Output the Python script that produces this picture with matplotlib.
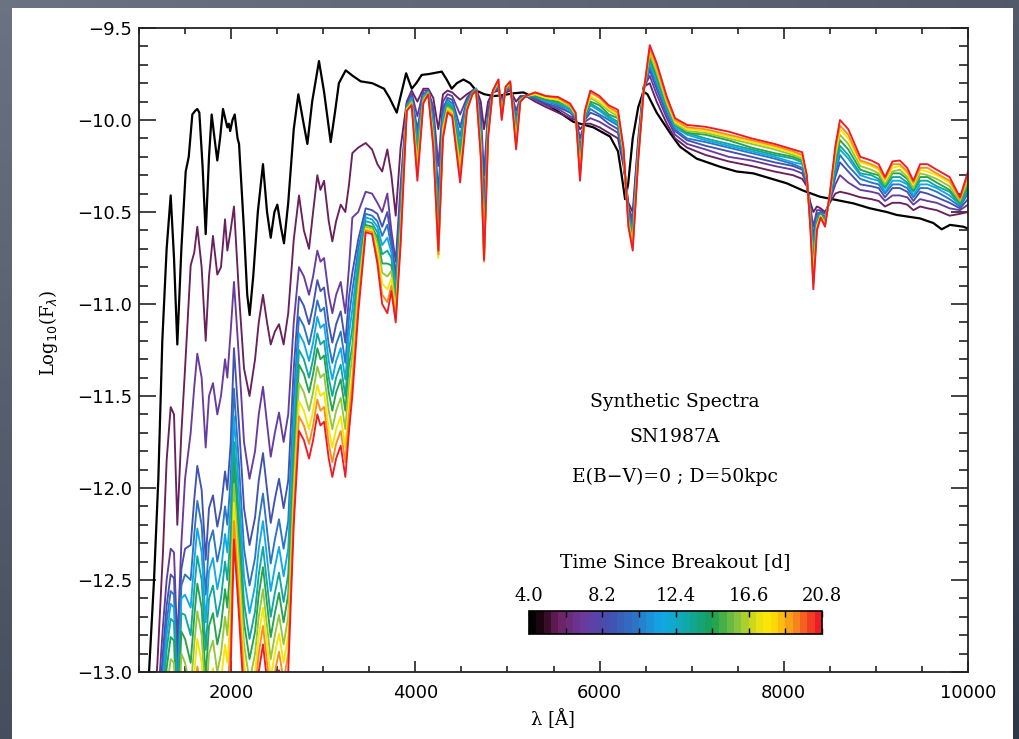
import numpy as np
import matplotlib
matplotlib.use('Agg')
import matplotlib.pyplot as plt
from matplotlib.colors import LinearSegmentedColormap, Normalize
from matplotlib.patches import Rectangle
from matplotlib.ticker import MultipleLocator, FuncFormatter
import matplotlib.cm as cm

# days since breakout, one per spectrum (black = first)
times = [4.0, 5.5, 7.1, 8.6, 10.1, 11.6, 13.2, 14.7, 16.2, 17.7, 19.3, 20.8]

# first spectrum (black), own wavelength grid
wave_black = [1090, 1109, 1163, 1210, 1253, 1300, 1344, 1380, 1416, 1460, 1507, 1540, 1579, 1610, 1633, 1655,
              1690, 1724, 1760, 1789, 1820, 1850, 1880, 1912, 1940, 1959, 1975, 1990, 2015, 2039, 2070, 2086,
              2140, 2175, 2201, 2240, 2290, 2346, 2390, 2430, 2470, 2502, 2540, 2574, 2620, 2680, 2730, 2780,
              2828, 2880, 2954, 3010, 3081, 3130, 3170, 3244, 3320, 3407, 3533, 3660, 3720, 3798, 3850, 3900,
              3961, 4010, 4069, 4150, 4287, 4340, 4395, 4450, 4522, 4594, 4660, 4750, 4850, 4950, 5065, 5173,
              5300, 5499, 5716, 5933, 6114, 6200, 6240, 6277, 6310, 6360, 6420, 6476, 6520, 6620, 6765, 6873,
              7054, 7308, 7489, 7670, 7851, 8032, 8212, 8393, 8574, 8755, 8936, 9117, 9226, 9479, 9624, 9714,
              9805, 9950, 10000]
logf_black = [-13.3, -13.0, -12.5, -11.95, -11.2, -10.7, -10.41, -10.75, -11.22, -10.7, -10.28, -10.2, -9.97, -9.95, -9.94, -9.96,
              -10.25, -10.62, -10.2, -9.97, -10.1, -10.22, -10.1, -9.94, -10.0, -10.04, -10.02, -10.06, -10.0, -9.97, -10.1, -10.13,
              -10.6, -10.95, -11.06, -10.85, -10.5, -10.24, -10.5, -10.64, -10.5, -10.46, -10.58, -10.67, -10.45, -10.05, -9.86, -10.0,
              -10.13, -9.9, -9.68, -9.85, -10.12, -9.95, -9.8, -9.73, -9.76, -9.79, -9.8, -9.83, -9.88, -9.96, -9.85, -9.746,
              -9.83, -9.8, -9.755, -9.75, -9.737, -9.78, -9.83, -9.8, -9.78, -9.8, -9.84, -9.86, -9.87, -9.865, -9.855, -9.85,
              -9.88, -9.937, -10.01, -10.04, -10.09, -10.17, -10.3, -10.43, -10.35, -10.1, -9.93, -9.846, -9.86, -9.96, -10.07, -10.145,
              -10.21, -10.254, -10.28, -10.29, -10.317, -10.344, -10.384, -10.417, -10.435, -10.453, -10.48, -10.5, -10.516, -10.535, -10.56, -10.594,
              -10.57, -10.58, -10.59]

# shared wavelength grid of the later spectra (UV part, then optical part)
wave_uv = [1150, 1200, 1260, 1300, 1344, 1380, 1416, 1460, 1500, 1561, 1600, 1633, 1680, 1724, 1760, 1803,
           1850, 1890, 1934, 1959, 1995, 2031, 2086, 2140, 2200, 2260, 2300, 2346, 2390, 2430, 2475, 2520,
           2570, 2620, 2680, 2737, 2790, 2846, 2890, 2936, 2970, 3009, 3060, 3099, 3140, 3190, 3240, 3280,
           3316, 3380, 3461, 3530, 3588, 3640, 3696, 3740]
wave_opt = [3787, 3840, 3907, 3960, 4022, 4087, 4140, 4195, 4250, 4300, 4350, 4400, 4486, 4560, 4620, 4660,
            4710, 4746, 4790, 4840, 4902, 4938, 4980, 5030, 5094, 5140, 5200, 5300, 5420, 5550, 5680, 5740,
            5788, 5840, 5900, 6000, 6100, 6200, 6260, 6313, 6360, 6420, 6476, 6545, 6620, 6730, 6820, 6950,
            7150, 7400, 7650, 7900, 8100, 8200, 8250, 8290, 8321, 8360, 8400, 8448, 8500, 8560, 8610, 8700,
            8830, 8950, 9030, 9099, 9180, 9260, 9340, 9407, 9480, 9560, 9660, 9800, 9913, 10000]

logf_t055 = [-13.3, -12.95, -12.35, -11.85, -11.56, -11.6, -12.2, -11.7, -11.35, -10.79, -10.72, -10.58, -10.8, -11.2, -10.85, -10.63,
             -10.84, -10.8, -10.54, -10.71, -10.6, -10.47, -10.95, -11.35, -11.5, -11.3, -11.1, -10.95, -11.1, -11.22, -11.15, -11.11,
             -11.22, -11.05, -10.65, -10.41, -10.6, -10.7, -10.5, -10.3, -10.38, -10.33, -10.55, -10.66, -10.55, -10.46, -10.5, -10.35,
             -10.18, -10.15, -10.125, -10.16, -10.24, -10.28, -10.16, -10.3,
             -10.52, -10.15, -9.9, -9.84, -9.9, -9.83, -9.83, -9.88, -10.05, -9.86, -9.84, -9.85, -9.89, -9.86, -9.84, -9.83,
             -9.9, -10.05, -9.9, -9.85, -9.84, -9.88, -9.85, -9.84, -9.9, -9.87, -9.87, -9.9, -9.93, -9.96, -9.99, -10.0,
             -10.05, -10.02, -10.02, -10.04, -10.07, -10.1, -10.25, -10.45, -10.5, -10.1, -9.82, -9.8, -9.9, -10.02, -10.1, -10.15,
             -10.19, -10.225, -10.25, -10.28, -10.3, -10.32, -10.36, -10.45, -10.5, -10.47, -10.48, -10.5, -10.45, -10.4, -10.39, -10.4,
             -10.42, -10.43, -10.44, -10.47, -10.45, -10.45, -10.46, -10.49, -10.47, -10.48, -10.49, -10.52, -10.51, -10.5]
logf_t071 = [-13.6, -13.2, -12.75, -12.5, -12.33, -12.35, -12.85, -12.3, -11.95, -11.7, -11.45, -11.27, -11.4, -11.78, -11.5, -11.43,
             -11.6, -11.5, -11.3, -11.4, -11.15, -10.88, -11.3, -11.75, -11.95, -11.8, -11.6, -11.45, -11.65, -11.83, -11.7, -11.59,
             -11.75, -11.6, -11.1, -10.8, -10.85, -10.95, -10.85, -10.71, -10.77, -10.75, -10.95, -11.05, -10.95, -10.88, -11.05, -10.8,
             -10.53, -10.5, -10.39, -10.4, -10.45, -10.5, -10.4, -10.6,
             -10.77, -10.35, -9.91, -9.85, -9.98, -9.84, -9.84, -9.93, -10.25, -9.9, -9.86, -9.87, -9.97, -9.88, -9.84, -9.83,
             -9.95, -10.3, -9.94, -9.85, -9.83, -9.9, -9.84, -9.83, -9.95, -9.88, -9.87, -9.89, -9.92, -9.94, -9.98, -9.99,
             -10.1, -10.01, -9.99, -10.01, -10.04, -10.07, -10.23, -10.47, -10.54, -10.12, -9.83, -9.76, -9.86, -9.99, -10.08, -10.13,
             -10.16, -10.2, -10.22, -10.25, -10.27, -10.29, -10.35, -10.48, -10.58, -10.49, -10.49, -10.51, -10.44, -10.35, -10.3, -10.34,
             -10.38, -10.39, -10.4, -10.44, -10.41, -10.41, -10.42, -10.46, -10.43, -10.44, -10.45, -10.48, -10.49, -10.46]
logf_t086 = [-13.74, -13.34, -12.89, -12.64, -12.47, -12.49, -12.99, -12.44, -12.33, -12.31, -12.06, -11.88, -12.01, -12.39, -12.11, -12.04,
             -12.21, -12.11, -11.91, -12.01, -11.76, -11.24, -11.66, -12.11, -12.31, -12.16, -11.96, -11.81, -12.01, -12.19, -12.06, -11.95,
             -12.11, -11.96, -11.35, -10.96, -11.01, -11.11, -11.01, -10.87, -10.93, -10.91, -11.11, -11.21, -11.11, -11.04, -11.21, -10.96,
             -10.83, -10.65, -10.48, -10.49, -10.51, -10.58, -10.5, -10.65,
             -10.85, -10.42, -9.92, -9.87, -10.05, -9.86, -9.84, -9.97, -10.4, -9.94, -9.88, -9.89, -10.04, -9.89, -9.85, -9.83,
             -10.0, -10.45, -9.97, -9.85, -9.82, -9.92, -9.84, -9.82, -9.99, -9.88, -9.87, -9.88, -9.91, -9.93, -9.96, -9.99,
             -10.15, -10.0, -9.96, -9.98, -10.02, -10.05, -10.22, -10.49, -10.57, -10.14, -9.83, -9.73, -9.83, -9.97, -10.06, -10.11,
             -10.14, -10.17, -10.2, -10.23, -10.25, -10.27, -10.34, -10.5, -10.63, -10.51, -10.5, -10.53, -10.43, -10.31, -10.23, -10.28,
             -10.35, -10.36, -10.37, -10.42, -10.37, -10.37, -10.39, -10.44, -10.39, -10.4, -10.42, -10.45, -10.48, -10.43]
logf_t101 = [-13.83, -13.43, -12.98, -12.73, -12.56, -12.58, -13.08, -12.53, -12.47, -12.5, -12.25, -12.07, -12.2, -12.58, -12.3, -12.23,
             -12.4, -12.3, -12.1, -12.2, -11.95, -11.46, -11.88, -12.33, -12.53, -12.38, -12.18, -12.03, -12.23, -12.41, -12.28, -12.17,
             -12.33, -12.18, -11.52, -11.07, -11.12, -11.22, -11.12, -10.98, -11.04, -11.02, -11.22, -11.32, -11.22, -11.15, -11.32, -11.07,
             -10.93, -10.7, -10.51, -10.52, -10.55, -10.63, -10.57, -10.69,
             -10.9, -10.46, -9.92, -9.88, -10.09, -9.87, -9.84, -10.0, -10.5, -9.97, -9.89, -9.91, -10.09, -9.9, -9.85, -9.83,
             -10.03, -10.55, -9.99, -9.85, -9.81, -9.93, -9.84, -9.82, -10.01, -9.88, -9.87, -9.88, -9.9, -9.92, -9.95, -9.98,
             -10.17, -9.99, -9.94, -9.97, -10.0, -10.03, -10.21, -10.51, -10.59, -10.15, -9.84, -9.71, -9.81, -9.96, -10.05, -10.1,
             -10.12, -10.15, -10.18, -10.21, -10.24, -10.26, -10.33, -10.52, -10.68, -10.53, -10.5, -10.54, -10.43, -10.29, -10.19, -10.25,
             -10.32, -10.34, -10.35, -10.4, -10.35, -10.35, -10.37, -10.42, -10.37, -10.37, -10.39, -10.43, -10.47, -10.4]
logf_t116 = [-13.9, -13.5, -13.05, -12.8, -12.63, -12.65, -13.15, -12.6, -12.58, -12.65, -12.4, -12.22, -12.35, -12.73, -12.45, -12.38,
             -12.55, -12.45, -12.25, -12.35, -12.1, -11.61, -12.03, -12.48, -12.68, -12.53, -12.33, -12.18, -12.38, -12.56, -12.43, -12.32,
             -12.48, -12.33, -11.65, -11.16, -11.21, -11.31, -11.21, -11.07, -11.13, -11.11, -11.31, -11.41, -11.31, -11.24, -11.41, -11.16,
             -11.03, -10.75, -10.53, -10.54, -10.58, -10.68, -10.64, -10.72,
             -10.94, -10.5, -9.93, -9.88, -10.13, -9.87, -9.85, -10.02, -10.56, -9.99, -9.9, -9.92, -10.13, -9.91, -9.85, -9.83,
             -10.06, -10.62, -10.01, -9.85, -9.81, -9.94, -9.83, -9.81, -10.04, -9.89, -9.87, -9.87, -9.9, -9.91, -9.95, -9.98,
             -10.2, -9.98, -9.92, -9.95, -9.99, -10.02, -10.2, -10.52, -10.61, -10.16, -9.84, -9.69, -9.79, -9.94, -10.04, -10.08,
             -10.11, -10.14, -10.17, -10.2, -10.23, -10.24, -10.33, -10.53, -10.72, -10.54, -10.51, -10.54, -10.42, -10.26, -10.16, -10.21,
             -10.3, -10.32, -10.33, -10.39, -10.33, -10.33, -10.35, -10.41, -10.35, -10.35, -10.37, -10.41, -10.46, -10.38]
logf_t132 = [-13.98, -13.58, -13.13, -12.88, -12.71, -12.73, -13.23, -12.68, -12.69, -12.8, -12.55, -12.37, -12.5, -12.88, -12.6, -12.53,
             -12.7, -12.6, -12.4, -12.5, -12.25, -11.75, -12.17, -12.62, -12.82, -12.67, -12.47, -12.32, -12.52, -12.7, -12.57, -12.46,
             -12.62, -12.47, -11.78, -11.25, -11.3, -11.4, -11.3, -11.16, -11.22, -11.2, -11.4, -11.5, -11.4, -11.33, -11.5, -11.25,
             -11.13, -10.8, -10.55, -10.56, -10.61, -10.73, -10.71, -10.75,
             -10.97, -10.53, -9.93, -9.89, -10.16, -9.88, -9.85, -10.04, -10.6, -10.01, -9.91, -9.93, -10.16, -9.91, -9.85, -9.84,
             -10.08, -10.67, -10.02, -9.85, -9.8, -9.95, -9.83, -9.81, -10.06, -9.89, -9.87, -9.87, -9.89, -9.91, -9.94, -9.98,
             -10.22, -9.98, -9.91, -9.94, -9.98, -10.01, -10.19, -10.53, -10.63, -10.17, -9.84, -9.67, -9.77, -9.93, -10.03, -10.07,
             -10.1, -10.13, -10.16, -10.19, -10.21, -10.23, -10.32, -10.54, -10.75, -10.55, -10.51, -10.55, -10.42, -10.24, -10.14, -10.19,
             -10.29, -10.3, -10.32, -10.37, -10.31, -10.31, -10.34, -10.39, -10.33, -10.33, -10.36, -10.39, -10.46, -10.37]
logf_t147 = [-14.08, -13.68, -13.23, -12.98, -12.81, -12.83, -13.33, -12.78, -12.82, -12.95, -12.7, -12.52, -12.65, -13.03, -12.75, -12.68,
             -12.85, -12.75, -12.55, -12.65, -12.4, -11.86, -12.28, -12.73, -12.93, -12.78, -12.58, -12.43, -12.63, -12.81, -12.68, -12.57,
             -12.73, -12.58, -11.88, -11.33, -11.38, -11.48, -11.38, -11.24, -11.3, -11.28, -11.48, -11.58, -11.48, -11.41, -11.58, -11.33,
             -11.23, -10.85, -10.57, -10.58, -10.64, -10.78, -10.78, -10.79,
             -11.0, -10.56, -9.93, -9.9, -10.2, -9.89, -9.85, -10.07, -10.68, -10.03, -9.92, -9.94, -10.2, -9.92, -9.85, -9.84,
             -10.11, -10.71, -10.04, -9.85, -9.8, -9.96, -9.83, -9.81, -10.08, -9.89, -9.87, -9.87, -9.89, -9.9, -9.93, -9.97,
             -10.24, -9.97, -9.9, -9.92, -9.97, -9.99, -10.18, -10.54, -10.64, -10.18, -9.85, -9.66, -9.76, -9.92, -10.02, -10.07,
             -10.08, -10.11, -10.15, -10.18, -10.2, -10.22, -10.32, -10.55, -10.79, -10.56, -10.51, -10.56, -10.42, -10.22, -10.11, -10.16,
             -10.27, -10.29, -10.3, -10.36, -10.29, -10.29, -10.32, -10.38, -10.31, -10.31, -10.34, -10.38, -10.45, -10.35]
logf_t162 = [-14.2, -13.8, -13.35, -13.1, -12.93, -12.95, -13.45, -12.9, -12.95, -13.1, -12.85, -12.67, -12.8, -13.18, -12.9, -12.83,
             -13.0, -12.9, -12.7, -12.8, -12.55, -11.98, -12.4, -12.85, -13.05, -12.9, -12.7, -12.55, -12.75, -12.93, -12.8, -12.69,
             -12.85, -12.7, -11.98, -11.43, -11.48, -11.58, -11.48, -11.34, -11.4, -11.38, -11.58, -11.68, -11.58, -11.51, -11.68, -11.43,
             -11.28, -10.9, -10.58, -10.59, -10.67, -10.83, -10.85, -10.82,
             -11.03, -10.59, -9.94, -9.9, -10.23, -9.89, -9.85, -10.09, -10.73, -10.04, -9.93, -9.95, -10.24, -9.93, -9.86, -9.84,
             -10.13, -10.74, -10.05, -9.85, -9.79, -9.97, -9.83, -9.8, -10.1, -9.89, -9.87, -9.86, -9.88, -9.89, -9.93, -9.97,
             -10.27, -9.97, -9.88, -9.91, -9.95, -9.98, -10.17, -10.55, -10.66, -10.19, -9.85, -9.64, -9.74, -9.91, -10.02, -10.06,
             -10.07, -10.1, -10.13, -10.16, -10.19, -10.21, -10.31, -10.57, -10.82, -10.57, -10.52, -10.56, -10.41, -10.2, -10.08, -10.13,
             -10.25, -10.27, -10.29, -10.35, -10.28, -10.27, -10.31, -10.37, -10.29, -10.3, -10.32, -10.36, -10.44, -10.33]
logf_t177 = [-14.3, -13.9, -13.45, -13.2, -13.03, -13.05, -13.55, -13.0, -13.08, -13.25, -13.0, -12.82, -12.95, -13.33, -13.05, -12.98,
             -13.15, -13.05, -12.85, -12.95, -12.7, -12.08, -12.5, -12.95, -13.15, -13.0, -12.8, -12.65, -12.85, -13.03, -12.9, -12.79,
             -12.95, -12.8, -12.07, -11.53, -11.58, -11.68, -11.58, -11.44, -11.5, -11.48, -11.68, -11.78, -11.68, -11.61, -11.78, -11.53,
             -11.38, -10.95, -10.59, -10.6, -10.71, -10.89, -10.92, -10.86,
             -11.06, -10.62, -9.94, -9.91, -10.27, -9.9, -9.86, -10.11, -10.75, -10.06, -9.94, -9.96, -10.27, -9.94, -9.86, -9.84,
             -10.16, -10.76, -10.07, -9.85, -9.79, -9.98, -9.82, -9.8, -10.12, -9.9, -9.87, -9.86, -9.88, -9.89, -9.92, -9.97,
             -10.29, -9.96, -9.87, -9.9, -9.94, -9.97, -10.17, -10.56, -10.68, -10.2, -9.85, -9.62, -9.72, -9.9, -10.01, -10.05,
             -10.06, -10.09, -10.12, -10.15, -10.18, -10.2, -10.31, -10.58, -10.85, -10.58, -10.52, -10.57, -10.41, -10.18, -10.05, -10.1,
             -10.23, -10.25, -10.27, -10.33, -10.26, -10.25, -10.29, -10.35, -10.27, -10.28, -10.3, -10.34, -10.43, -10.31]
logf_t193 = [-14.4, -14.0, -13.55, -13.3, -13.13, -13.15, -13.65, -13.1, -13.2, -13.4, -13.15, -12.97, -13.1, -13.48, -13.2, -13.13,
             -13.3, -13.2, -13.0, -13.1, -12.85, -12.18, -12.6, -13.05, -13.25, -13.1, -12.9, -12.75, -12.95, -13.13, -13.0, -12.89,
             -13.05, -12.9, -12.14, -11.61, -11.66, -11.76, -11.66, -11.52, -11.58, -11.56, -11.76, -11.86, -11.76, -11.69, -11.86, -11.61,
             -11.43, -11.0, -10.6, -10.61, -10.75, -10.95, -10.99, -10.9,
             -11.08, -10.65, -9.95, -9.91, -10.3, -9.9, -9.86, -10.13, -10.73, -10.08, -9.95, -9.97, -10.3, -9.94, -9.86, -9.84,
             -10.18, -10.77, -10.08, -9.85, -9.78, -9.99, -9.82, -9.79, -10.14, -9.9, -9.87, -9.85, -9.87, -9.88, -9.92, -9.96,
             -10.31, -9.96, -9.85, -9.88, -9.93, -9.96, -10.16, -10.57, -10.69, -10.21, -9.86, -9.61, -9.71, -9.89, -10.0, -10.04,
             -10.05, -10.08, -10.11, -10.14, -10.17, -10.19, -10.3, -10.59, -10.89, -10.59, -10.53, -10.57, -10.4, -10.16, -10.03, -10.08,
             -10.22, -10.24, -10.26, -10.32, -10.24, -10.24, -10.28, -10.34, -10.26, -10.26, -10.29, -10.33, -10.43, -10.3]
logf_t208 = [-14.5, -14.1, -13.65, -13.4, -13.23, -13.25, -13.75, -13.2, -13.33, -13.55, -13.3, -13.12, -13.25, -13.63, -13.35, -13.28,
             -13.45, -13.35, -13.15, -13.25, -13.0, -12.28, -12.7, -13.15, -13.35, -13.2, -13.0, -12.85, -13.05, -13.23, -13.1, -12.99,
             -13.15, -13.0, -12.2, -11.69, -11.74, -11.84, -11.74, -11.6, -11.66, -11.64, -11.84, -11.94, -11.84, -11.77, -11.94, -11.69,
             -11.5, -11.05, -10.61, -10.62, -10.78, -11.0, -11.05, -10.93,
             -11.1, -10.68, -9.95, -9.92, -10.33, -9.91, -9.86, -10.15, -10.71, -10.1, -9.96, -9.98, -10.34, -9.95, -9.86, -9.84,
             -10.2, -10.76, -10.1, -9.84, -9.78, -10.0, -9.82, -9.79, -10.16, -9.9, -9.87, -9.85, -9.87, -9.875, -9.91, -9.96,
             -10.33, -9.95, -9.84, -9.87, -9.92, -9.945, -10.15, -10.58, -10.71, -10.22, -9.86, -9.593, -9.69, -9.873, -9.99, -10.027,
             -10.037, -10.063, -10.1, -10.13, -10.16, -10.175, -10.3, -10.6, -10.92, -10.6, -10.53, -10.58, -10.4, -10.14, -10.0, -10.05,
             -10.2, -10.22, -10.24, -10.31, -10.225, -10.22, -10.26, -10.33, -10.24, -10.24, -10.27, -10.31, -10.42, -10.28]

colored = [logf_t055, logf_t071, logf_t086, logf_t101, logf_t116, logf_t132,
           logf_t147, logf_t162, logf_t177, logf_t193, logf_t208]
wave = np.array(wave_uv + wave_opt)

# IDL-like rainbow that starts at black
rainbow_stops = [
    (0.00, '#000000'), (0.04, '#2a0818'), (0.09, '#6e2262'), (0.18, '#6a3a9e'),
    (0.27, '#4250b0'), (0.36, '#2c74c4'), (0.45, '#10a8e8'), (0.54, '#10a8a8'),
    (0.63, '#18a050'), (0.72, '#8cc63c'), (0.79, '#e8e010'), (0.83, '#ffe800'),
    (0.91, '#f7941d'), (1.00, '#ee1c24')]
line_cmap = LinearSegmentedColormap.from_list('rainbow_black', rainbow_stops, N=256)
bar_cmap = LinearSegmentedColormap.from_list('rainbow_black_steps', rainbow_stops, N=40)
norm = Normalize(times[0], times[-1])

fig = plt.figure(figsize=(10.19, 7.39), dpi=100)
fig.patch.set_facecolor('#4b5363')

# dark slate backdrop, lighter toward the lower left
bg = fig.add_axes([0, 0, 1, 1], zorder=-10)
gx, gy = np.meshgrid(np.linspace(0, 1, 64), np.linspace(0, 1, 64))
bg.imshow(0.6 * gy + 0.4 * gx, extent=[0, 1, 0, 1], aspect='auto', origin='upper',
          cmap=LinearSegmentedColormap.from_list('slate', ['#6b7282', '#2e3747']))
bg.set_axis_off()
fig.add_artist(Rectangle((12 / 1019, 0), 1001 / 1019, 731 / 739, transform=fig.transFigure,
                         facecolor='white', edgecolor='none', zorder=-5))

ax = fig.add_axes([139 / 1019, 1 - 672 / 739, 829 / 1019, 644 / 739])
ax.plot(wave_black, logf_black, color='black', lw=1.6)
for t, lf in zip(times[1:], colored):
    ax.plot(wave, lf, color=line_cmap(norm(t)), lw=1.35)

ax.set_xlim(1000, 10000)
ax.set_ylim(-13.0, -9.5)
ax.xaxis.set_major_locator(MultipleLocator(2000))
ax.xaxis.set_minor_locator(MultipleLocator(500))
ax.yaxis.set_major_locator(MultipleLocator(0.5))
ax.yaxis.set_minor_locator(MultipleLocator(0.1))
ax.yaxis.set_major_formatter(FuncFormatter(lambda v, p: ('%.1f' % v).replace('-', '\u2212')))
ax.tick_params(which='both', direction='in', top=True, right=True, width=1.2, colors='#222222',
               labelcolor='black', labelsize=13)
ax.tick_params(axis='x', which='major', length=8, pad=9)
ax.tick_params(axis='x', which='minor', length=4)
ax.tick_params(axis='y', which='major', length=12.5, pad=5)
ax.tick_params(axis='y', which='minor', length=6.5)
for s in ax.spines.values():
    s.set_linewidth(1.3)
    s.set_color('#222222')

serif = 'DejaVu Serif'
fig.text(48 / 1019, 1 - 333 / 739, r'Log$_{10}$(F$_\lambda$)', rotation=90, ha='center', va='center',
         family=serif, fontsize=13)
fig.text(553 / 1019, 1 - 719 / 739, '\u03bb [\u00c5]', ha='center', va='center', family=serif, fontsize=13)

ax.text(0.6466, 0.419, 'Synthetic Spectra', transform=ax.transAxes, ha='center', va='center',
        family=serif, fontsize=13.5)
ax.text(0.6466, 0.365, 'SN1987A', transform=ax.transAxes, ha='center', va='center',
        family=serif, fontsize=13.5)
ax.text(0.6466, 0.303, 'E(B\u2212V)=0 ; D=50kpc', transform=ax.transAxes, ha='center', va='center',
        family=serif, fontsize=13.5)
ax.text(0.6466, 0.171, 'Time Since Breakout [d]', transform=ax.transAxes, ha='center', va='center',
        family=serif, fontsize=13.5)

cax = fig.add_axes([529 / 1019, 1 - 634 / 739, 293 / 1019, 23 / 739])
cb = fig.colorbar(cm.ScalarMappable(norm=norm, cmap=bar_cmap), cax=cax, orientation='horizontal',
                  ticks=[4.0, 8.2, 12.4, 16.6, 20.8])
cax.set_xticks([6.1, 10.3, 14.5, 18.7], minor=True)
cax.set_xticklabels(['4.0', '8.2', '12.4', '16.6', '20.8'], family=serif, fontsize=13)
cax.tick_params(which='both', direction='in', top=True, bottom=True, labeltop=True, labelbottom=False,
                length=4, width=1.0, pad=4)
cb.outline.set_linewidth(1.2)

fig.savefig('out.png', dpi=100, facecolor=fig.get_facecolor())
